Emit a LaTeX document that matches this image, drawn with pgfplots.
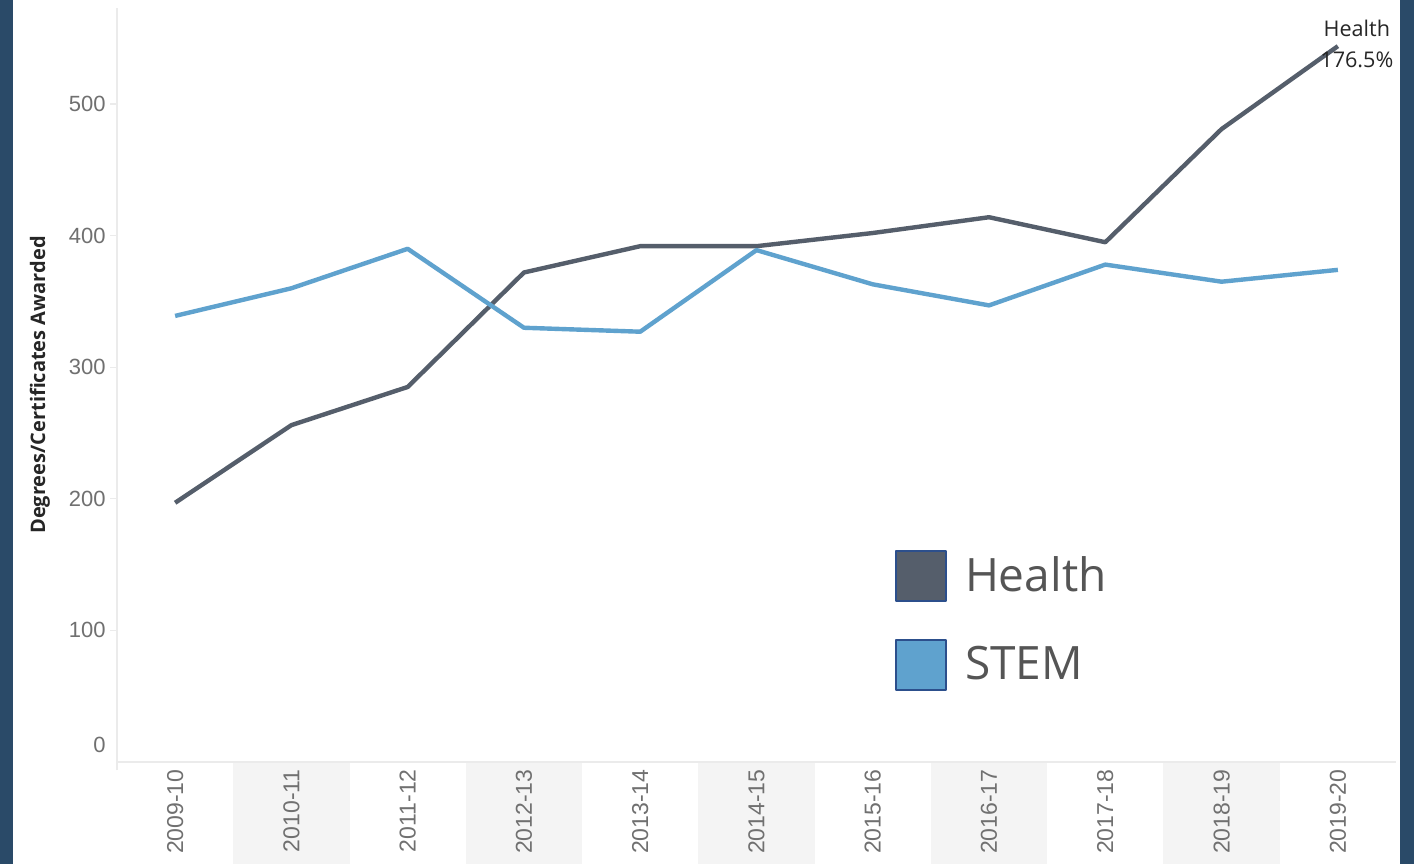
\documentclass[border=0pt]{standalone}
\usepackage{pgfplots}
\pgfplotsset{compat=1.18}
\usepackage{fontspec}
\setmainfont{Liberation Sans}
\newfontfamily\opensans{Open Sans}
\definecolor{framec}{HTML}{2A4A68}
\definecolor{healthc}{HTML}{555E6B}
\definecolor{stemc}{HTML}{5FA2CE}
\definecolor{legborder}{HTML}{2C4F8C}
\definecolor{tickc}{HTML}{707070}
\definecolor{gridc}{HTML}{EBEBEB}
\definecolor{bandc}{HTML}{F4F4F4}
\definecolor{legtext}{HTML}{555555}
\begin{document}
\begin{tikzpicture}
\fill[framec] (0,0) rectangle (707pt,432pt);
\fill[white] (6.5pt,0) rectangle (700pt,432pt);
\foreach \i in {1,3,5,7,9} {
  \fill[bandc] ({58.5pt+\i*58.136pt},0) rectangle ({58.5pt+(\i+1)*58.136pt},50.6pt);
}
\draw[gridc, line width=0.6pt] (58.5pt,47pt) -- (58.5pt,428pt);
\begin{axis}[
  at={(58.5pt,51pt)}, anchor=south west,
  scale only axis, width=639.5pt, height=377pt,
  xmin=-0.5, xmax=10.5, ymin=0, ymax=573,
  axis x line=bottom, axis y line=left,
  axis line style={draw=gridc, line width=0.6pt, -},
  xtick={0,...,10},
  xticklabels={2009-10,2010-11,2011-12,2012-13,2013-14,2014-15,2015-16,2016-17,2017-18,2018-19,2019-20},
  x tick style={draw=none},
  xticklabel style={rotate=90, anchor=east, font=\fontsize{11.5}{13}\selectfont, text=tickc, inner sep=0pt, yshift=0pt},
  ytick={100,200,300,400,500},
  extra y ticks={0}, extra y tick labels={0},
  extra y tick style={major tick length=0pt, yticklabel style={yshift=8.5pt, xshift=-3.5pt}},
  y tick style={draw=gridc, line width=0.6pt},
  tick align=outside, major tick length=3.5pt,
  yticklabel style={anchor=east, font=\fontsize{11}{13}\selectfont, text=tickc, inner sep=0pt, xshift=-2pt},
  /pgf/number format/assume math mode=true,
  clip=false,
  legend style={at={(axis description cs:0.608,0.282)}, anchor=north west, draw=none, fill=none,
    font=\opensans\fontsize{23}{27}\selectfont, text=legtext, inner sep=0pt, row sep=18.5pt,
    /tikz/every odd column/.append style={column sep=7pt}},
  legend cell align=left,
]
\addplot[color=healthc, line width=2.2pt, line join=round,
  legend image code/.code={\draw[draw=legborder, line width=1pt, fill=healthc] (0pt,-12.5pt) rectangle (25pt,12.5pt);}]
  coordinates {(0,197) (1,256) (2,285) (3,372) (4,392) (5,392) (6,402) (7,414) (8,395) (9,481) (10,544)};
\addlegendentry{Health}
\addplot[color=stemc, line width=2.2pt, line join=round,
  legend image code/.code={\draw[draw=legborder, line width=1pt, fill=stemc] (0pt,-12.5pt) rectangle (25pt,12.5pt);}]
  coordinates {(0,339) (1,360) (2,390) (3,330) (4,327) (5,389) (6,363) (7,347) (8,378) (9,365) (10,374)};
\addlegendentry{STEM}
\node[align=center, font=\opensans\fontsize{10.8}{15.5}\selectfont, text=black!85, xshift=9.5pt, yshift=1pt] at (axis cs:10,544) {Health\\176.5\%};
\end{axis}
\node[rotate=90, font=\opensans\bfseries\fontsize{10}{12}\selectfont, text=black!85] at (20pt,239.5pt) {Degrees/Certificates Awarded};
\pgfresetboundingbox
\path (0,0) rectangle (707pt,432pt);
\end{tikzpicture}
\end{document}
